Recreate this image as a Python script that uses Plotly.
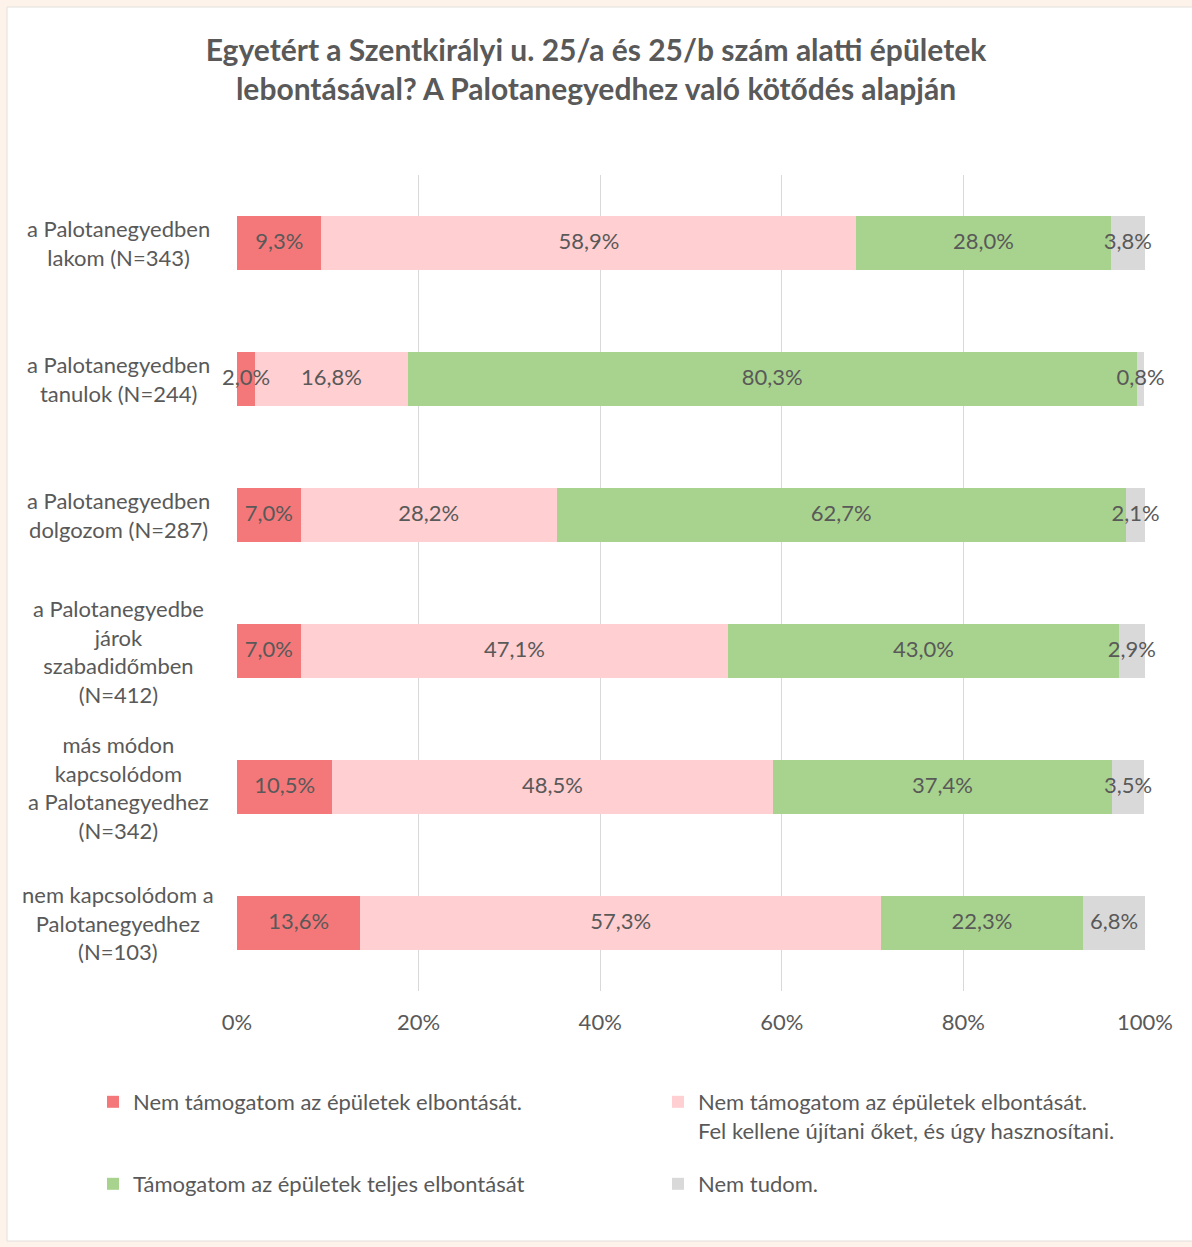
"""Stacked horizontal bar chart: Szentkirályi u. 25/a-25/b demolition survey."""

import plotly.graph_objects as go

W, H = 1192, 1247
MARGIN = dict(l=237, r=47, t=175, b=256)

categories = [
    "a Palotanegyedben<br>lakom (N=343)",
    "a Palotanegyedben<br>tanulok (N=244)",
    "a Palotanegyedben<br>dolgozom (N=287)",
    "a Palotanegyedbe<br>járok<br>szabadidőmben<br>(N=412)",
    "más módon<br>kapcsolódom<br>a Palotanegyedhez<br>(N=342)",
    "nem kapcsolódom a<br>Palotanegyedhez<br>(N=103)",
]

series_names = [
    "Nem támogatom az épületek elbontását.",
    "Nem támogatom az épületek elbontását.<br>Fel kellene újítani őket, és úgy hasznosítani.",
    "Támogatom az épületek teljes elbontását",
    "Nem tudom.",
]
not_support = [9.3, 2.0, 7.0, 7.0, 10.5, 13.6]
renovate = [58.9, 16.8, 28.2, 47.1, 48.5, 57.3]
demolish = [28.0, 80.3, 62.7, 43.0, 37.4, 22.3]
dont_know = [3.8, 0.8, 2.1, 2.9, 3.5, 6.8]

colors = ["#f4787a", "#ffcfd1", "#a8d38e", "#d9d9d9"]

TEXT = "#595959"
FONT = "Lato"
FS = 22

plot_w = W - MARGIN["l"] - MARGIN["r"]
plot_h = H - MARGIN["t"] - MARGIN["b"]


def px_x(px):
    return (px - MARGIN["l"]) / plot_w


def px_y(py):
    return (H - MARGIN["b"] - py) / plot_h


# legend slots in a 2x2 grid (left edge px, top edge px)
legend_ids = ["legend", "legend2", "legend3", "legend4"]
legend_pos = [(93, 1081), (658, 1081), (93, 1163), (658, 1163)]

all_series = [not_support, renovate, demolish, dont_know]

fig = go.Figure()

for name, values, color, leg in zip(series_names, all_series, colors, legend_ids):
    fig.add_trace(
        go.Bar(
            y=categories,
            x=values,
            name=name,
            orientation="h",
            marker=dict(color=color, line=dict(width=0)),
            hoverinfo="x+name",
            legend=leg,
        )
    )

# segment labels drawn on top of all bars so narrow ones can overflow
base = [0.0] * len(categories)
for values in all_series:
    mids = [b + v / 2 for b, v in zip(base, values)]
    fig.add_trace(
        go.Scatter(
            x=mids,
            y=categories,
            mode="text",
            text=[f"{v:.1f}%".replace(".", ",") for v in values],
            textposition="middle center",
            textfont=dict(family=FONT, size=FS, color=TEXT),
            cliponaxis=False,
            showlegend=False,
            hoverinfo="skip",
        )
    )
    base = [b + v for b, v in zip(base, values)]

# centred multi-line category labels
for cat in categories:
    fig.add_annotation(
        x=px_x(118),
        xref="paper",
        y=cat,
        yref="y",
        text=cat,
        showarrow=False,
        xanchor="center",
        align="center",
        font=dict(family=FONT, size=FS, color=TEXT),
    )

# white card on a beige page
fig.add_shape(
    type="rect",
    xref="paper",
    yref="paper",
    x0=px_x(7),
    x1=px_x(W + 5),
    y0=px_y(1241),
    y1=px_y(7),
    fillcolor="white",
    line=dict(color="#e3e0dc", width=1),
    layer="below",
)

legends = {}
for leg, (lx, ly) in zip(legend_ids, legend_pos):
    legends[leg] = dict(
        orientation="h",
        xanchor="left",
        yanchor="top",
        x=px_x(lx),
        y=px_y(ly),
        valign="top",
        bgcolor="rgba(0,0,0,0)",
        font=dict(family=FONT, size=FS, color=TEXT),
    )

fig.update_layout(
    width=W,
    height=H,
    margin=MARGIN,
    paper_bgcolor="#fdf3ea",
    plot_bgcolor="white",
    barmode="stack",
    bargap=0.6,
    title=dict(
        text="Egyetért a Szentkirályi u. 25/a és 25/b szám alatti épületek<br>"
        "lebontásával? A Palotanegyedhez való kötődés alapján",
        x=0.5,
        xanchor="center",
        xref="container",
        y=1 - 61 / H,
        yanchor="middle",
        font=dict(family=FONT, size=30, color=TEXT, weight="bold"),
    ),
    xaxis=dict(
        range=[0, 100],
        tickvals=[0, 20, 40, 60, 80, 100],
        ticktext=["0%", "20%", "40%", "60%", "80%", "100%"],
        showgrid=True,
        gridcolor="#d9d9d9",
        gridwidth=1,
        zeroline=False,
        showline=False,
        ticks="",
        tickfont=dict(family=FONT, size=FS, color=TEXT),
        ticklabelstandoff=16,
        fixedrange=True,
    ),
    yaxis=dict(
        categoryorder="array",
        categoryarray=categories,
        autorange="reversed",
        showticklabels=False,
        showgrid=False,
        zeroline=False,
        showline=False,
        ticks="",
        fixedrange=True,
    ),
    showlegend=True,
    **legends,
)

fig.write_html(
    "out.html",
    config={"displayModeBar": False},
    post_script="document.body.style.margin='0';",
)
